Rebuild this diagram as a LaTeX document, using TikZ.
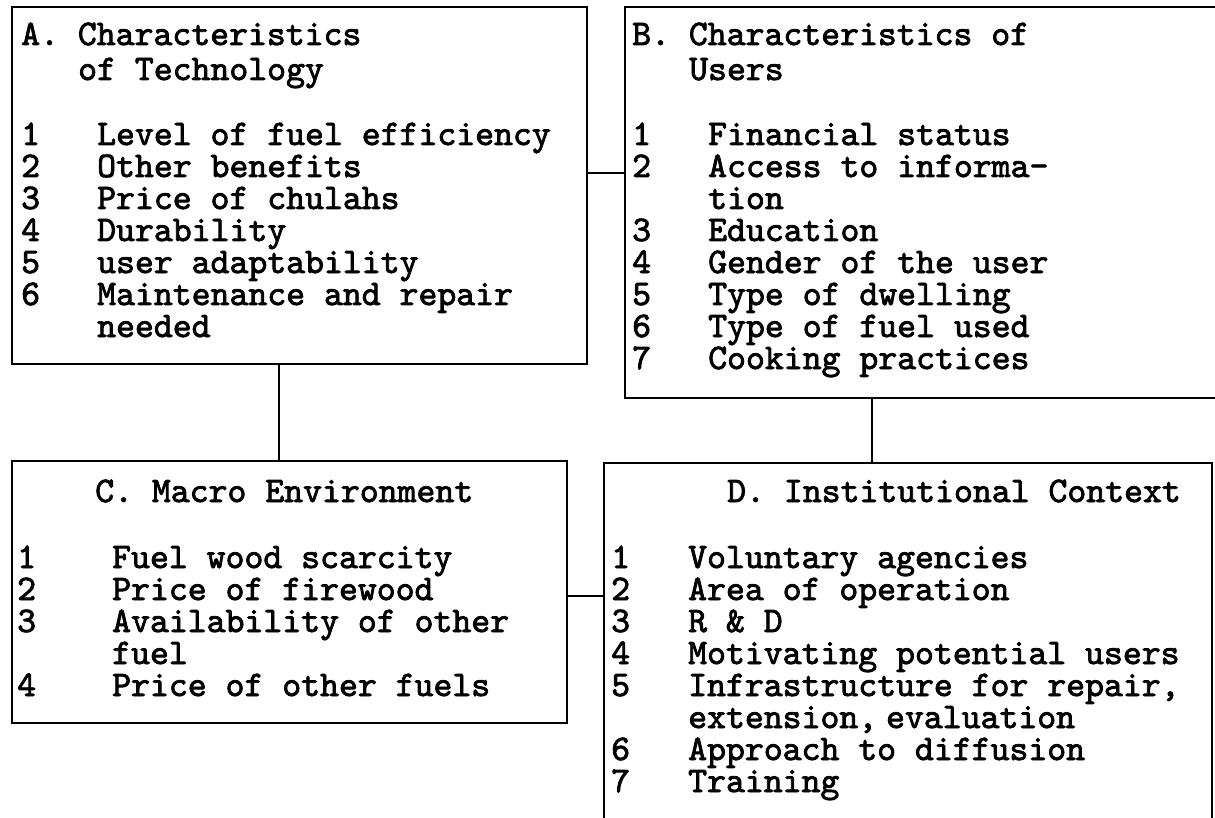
\documentclass[tikz,border=0pt]{standalone}
\usepackage{fontspec}
\newfontfamily\typew{lmmono10-regular.otf}[FakeBold=2.2]
\begin{document}
\begin{tikzpicture}[x=1pt,y=-1pt,
  box/.style={draw, line width=2.4pt, inner sep=0pt},
  txt/.style={anchor=base west, inner sep=0pt, text height=22pt, text depth=7pt, font=\typew\fontsize{36}{32}\selectfont},
  link/.style={line width=2.4pt}]
\useasboundingbox (0,0) rectangle (1215,818);
\clip (0,0) rectangle (1215,818);
% boxes
\node[box, minimum width=575pt, minimum height=357pt] (A) at (299.5,185.5) {};
\node[box, minimum width=605pt, minimum height=391pt] (B) at (927.5,202.5) {};
\node[box, minimum width=555pt, minimum height=262pt] (C) at (289.5,592) {};
\node[box, minimum width=608pt, minimum height=377pt] (D) at (908,651.5) {};
% connectors
\coordinate (ab) at (0,173);
\coordinate (cd) at (0,596);
\coordinate (ac) at (279,0);
\coordinate (bd) at (872,0);
\draw[link] (A.east |- ab) -- (B.west |- ab);
\draw[link] (C.east |- cd) -- (D.west |- cd);
\draw[link] (A.south -| ac) -- (C.north -| ac);
\draw[link] (B.south -| bd) -- (D.north -| bd);
% A text
\node[txt] (at1) at (21,45) {A. Characteristics};
\node[txt] (at2) at (78,80) {of Technology};
\node[txt] (an1) at (21,145) {1};
\node[txt] (ai1) at (97,145) {Level of fuel efficiency};
\node[txt] (an2) at (21,177) {2};
\node[txt] (ai2) at (97,177) {Other benefits};
\node[txt] (an3) at (21,209) {3};
\node[txt] (ai3) at (97,209) {Price of chulahs};
\node[txt] (an4) at (21,241) {4};
\node[txt] (ai4) at (97,241) {Durability};
\node[txt] (an5) at (21,273) {5};
\node[txt] (ai5) at (97,273) {user adaptability};
\node[txt] (an6) at (21,305) {6};
\node[txt] (ai6) at (97,305) {Maintenance and repair};
\node[txt] (ai6b) at (97,337) {needed};
% B text
\node[txt] (bt1) at (632,45) {B. Characteristics of};
\node[txt] (bt2) at (689,80) {Users};
\node[txt] (bn1) at (632,145) {1};
\node[txt] (bi1) at (708,145) {Financial status};
\node[txt] (bn2) at (632,177) {2};
\node[txt] (bi2) at (708,177) {Access to informa-};
\node[txt] (bi2b) at (708,209) {tion};
\node[txt] (bn3) at (632,241) {3};
\node[txt] (bi3) at (708,241) {Education};
\node[txt] (bn4) at (632,273) {4};
\node[txt] (bi4) at (708,273) {Gender of the user};
\node[txt] (bn5) at (632,305) {5};
\node[txt] (bi5) at (708,305) {Type of dwelling};
\node[txt] (bn6) at (632,337) {6};
\node[txt] (bi6) at (708,337) {Type of fuel used};
\node[txt] (bn7) at (632,369) {7};
\node[txt] (bi7) at (708,369) {Cooking practices};
% C text
\node[txt] (ct1) at (95,502) {C. Macro Environment};
\node[txt] (cn1) at (17,568) {1};
\node[txt] (ci1) at (112,568) {Fuel wood scarcity};
\node[txt] (cn2) at (17,600) {2};
\node[txt] (ci2) at (112,600) {Price of firewood};
\node[txt] (cn3) at (17,632) {3};
\node[txt] (ci3) at (112,632) {Availability of other};
\node[txt] (ci3b) at (112,664) {fuel};
\node[txt] (cn4) at (17,696) {4};
\node[txt] (ci4) at (112,696) {Price of other fuels};
% D text
\node[txt] (dt1) at (727,502) {D. Institutional Context};
\node[txt] (dn1) at (611,568) {1};
\node[txt] (di1) at (688,568) {Voluntary agencies};
\node[txt] (dn2) at (611,600) {2};
\node[txt] (di2) at (688,600) {Area of operation};
\node[txt] (dn3) at (611,632) {3};
\node[txt] (di3) at (688,632) {R \& D};
\node[txt] (dn4) at (611,664) {4};
\node[txt] (di4) at (688,664) {Motivating potential users};
\node[txt] (dn5) at (611,696) {5};
\node[txt] (di5) at (688,696) {Infrastructure for repair,};
\node[txt] (di5b) at (688,728) {extension,\hspace{-10pt} evaluation};
\node[txt] (dn6) at (611,760) {6};
\node[txt] (di6) at (688,760) {Approach to diffusion};
\node[txt] (dn7) at (611,792) {7};
\node[txt] (di7) at (688,792) {Training};
\end{tikzpicture}
\end{document}
